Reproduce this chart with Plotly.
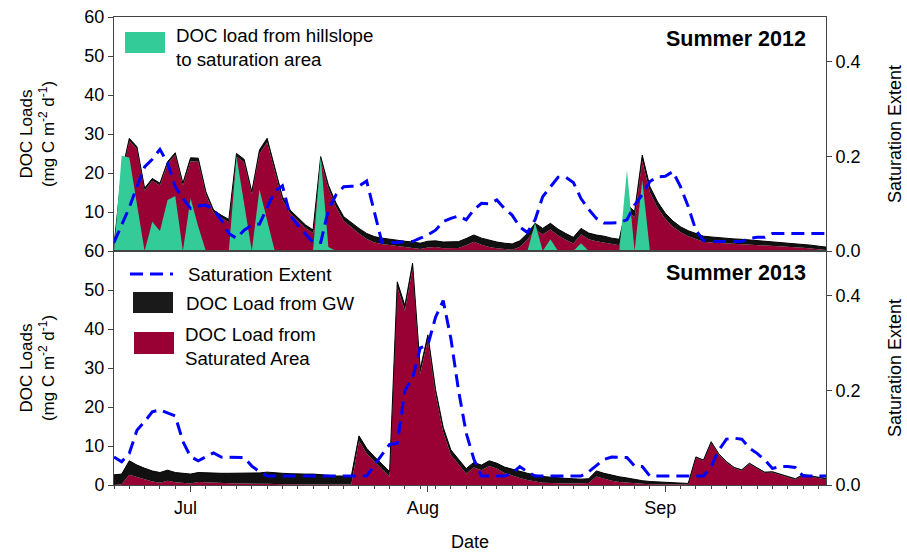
import pandas as pd
import plotly.graph_objects as go

# ---------------- data (daily, Jun 21 - Sep 22) ----------------
dates_2012 = pd.date_range("2012-06-21", periods=94, freq="D")
dates_2013 = pd.date_range("2013-06-21", periods=94, freq="D")

# 2012: DOC load from saturated area (mg C m-2 d-1)
sat_area_2012 = [1.0, 19.4, 28.3, 26.1, 15.5, 18.0, 16.8, 22.3, 24.6, 16.8,
                 23.0, 22.9, 14.5, 9.8, 8.5, 7.4, 24.2, 22.7, 14.5, 24.9,
                 27.9, 20.4, 13.1, 9.7, 7.7, 5.9, 4.6, 23.4, 16.0, 11.3,
                 7.7, 6.0, 4.5, 3.1, 2.2, 1.8, 1.5, 1.3, 1.0, 0.8,
                 0.5, 0.9, 1.0, 0.7, 0.8, 0.8, 1.5, 2.4, 1.6, 1.0,
                 0.7, 0.5, 0.3, 1.0, 2.9, 5.5, 4.2, 5.5, 4.0, 2.9,
                 1.9, 4.2, 3.0, 2.5, 2.2, 1.8, 1.5, 10.5, 8.6, 23.1,
                 15.0, 11.1, 8.2, 6.2, 4.8, 3.8, 3.0, 2.4, 2.2, 2.1,
                 1.9, 1.8, 1.7, 1.6, 1.5, 1.4, 1.3, 1.2, 1.1, 1.0,
                 0.85, 0.65, 0.45, 0.25]
# 2012: DOC load from groundwater
gw_2012 = [0.5, 0.6, 0.6, 0.6, 0.6, 0.6, 0.6, 0.6, 0.6, 0.6,
           0.9, 0.9, 0.7, 0.7, 0.7, 0.7, 0.8, 0.8, 0.7, 1.0,
           1.0, 0.9, 0.8, 0.8, 0.8, 0.8, 0.8, 0.8, 0.9, 1.0,
           1.1, 1.2, 1.3, 1.4, 1.5, 1.5, 1.5, 1.5, 1.5, 1.5,
           1.5, 1.6, 1.6, 1.6, 1.6, 1.6, 1.7, 1.7, 1.7, 1.7,
           1.6, 1.5, 1.5, 1.6, 1.6, 1.6, 1.6, 1.6, 1.6, 1.6,
           1.6, 1.6, 1.6, 1.6, 1.6, 1.5, 1.5, 1.5, 1.5, 1.5,
           1.5, 1.5, 1.5, 1.5, 1.4, 1.4, 1.4, 1.4, 1.4, 1.3,
           1.3, 1.3, 1.3, 1.25, 1.2, 1.15, 1.1, 1.05, 1.0, 0.95,
           0.9, 0.85, 0.8, 0.75]
# 2012: DOC load from hillslope to saturation area
hillslope_2012 = [0, 24.4, 24.0, 12.0, 0, 7.5, 5.1, 13.1, 14.1, 0,
                  13.5, 6.3, 0, 0, 0, 0, 24.2, 12.5, 0, 15.8,
                  7.9, 0, 0, 0, 0, 0, 0, 24.2, 1.0, 0,
                  0, 0, 0, 0, 0, 0, 0, 0, 0, 0,
                  0, 0, 0, 0, 0, 0, 0, 0, 0, 0,
                  0, 0, 0, 0, 0, 7.2, 0, 3.0, 0, 0,
                  0, 2.0, 0, 0, 0, 0, 0, 20.8, 0, 18.2,
                  0, 0, 0, 0, 0, 0, 0, 0, 0, 0,
                  0, 0, 0, 0, 0, 0, 0, 0, 0, 0,
                  0, 0, 0, 0]
# 2012: saturation extent (fraction)
sat_ext_2012 = [0.018, 0.055, 0.092, 0.136, 0.178, 0.194, 0.215, 0.186, 0.136, 0.111,
                0.090, 0.095, 0.097, 0.088, 0.066, 0.037, 0.027, 0.044, 0.055, 0.057,
                0.090, 0.126, 0.138, 0.076, 0.055, 0.037, 0.018, 0.018, 0.087, 0.119,
                0.136, 0.137, 0.137, 0.148, 0.080, 0.018, 0.018, 0.018, 0.020, 0.020,
                0.027, 0.034, 0.044, 0.062, 0.069, 0.074, 0.066, 0.087, 0.101, 0.100,
                0.108, 0.090, 0.076, 0.051, 0.039, 0.066, 0.115, 0.136, 0.156, 0.156,
                0.145, 0.111, 0.088, 0.069, 0.059, 0.059, 0.060, 0.066, 0.097, 0.119,
                0.147, 0.157, 0.158, 0.168, 0.136, 0.094, 0.044, 0.022, 0.020, 0.020,
                0.020, 0.020, 0.020, 0.027, 0.029, 0.029, 0.037, 0.037, 0.037, 0.037,
                0.037, 0.037, 0.037, 0.037]

# 2013
sat_area_2013 = [0.0, 0.2, 2.6, 2.0, 1.4, 0.9, 0.6, 1.1, 0.7, 0.5,
                 0.4, 0.8, 0.7, 0.6, 0.5, 0.4, 0.4, 0.4, 0.3, 0.3,
                 0.3, 0.2, 0.2, 0.2, 0.1, 0.1, 0.1, 0.1, 0.1, 0.1,
                 0.1, 0.1, 11.3, 8.1, 6.0, 4.1, 2.1, 50.8, 44.7, 55.6,
                 28.5, 37.2, 23.2, 13.5, 7.7, 5.3, 2.9, 4.5, 3.8, 4.9,
                 4.2, 3.1, 2.4, 1.8, 1.3, 0.9, 0.6, 0.5, 0.4, 0.4,
                 0.4, 0.4, 0.5, 2.2, 1.6, 1.1, 0.8, 0.6, 0.4, 0.3,
                 0.2, 0.2, 0.1, 0.1, 0.1, 0.1, 7.0, 6.2, 10.9, 7.8,
                 5.8, 4.3, 3.7, 5.4, 4.2, 3.1, 3.2, 2.6, 2.0, 1.4,
                 2.5, 2.1, 1.8, 1.5]
gw_2013 = [2.6, 2.6, 3.6, 3.1, 2.9, 2.7, 2.6, 2.7, 2.5, 2.5,
           2.4, 2.4, 2.4, 2.4, 2.5, 2.6, 2.6, 2.7, 2.8, 2.8,
           3.0, 2.9, 2.8, 2.7, 2.7, 2.7, 2.7, 2.6, 2.4, 2.2,
           2.2, 2.2, 1.3, 1.3, 1.3, 1.3, 1.3, 1.3, 1.3, 1.3,
           1.3, 1.3, 1.3, 1.3, 1.3, 1.3, 1.3, 1.3, 1.3, 1.3,
           1.4, 1.5, 1.6, 1.7, 1.7, 1.7, 1.6, 1.5, 1.4, 1.3,
           1.2, 1.1, 1.1, 1.4, 1.4, 1.4, 1.3, 1.2, 1.0, 0.8,
           0.7, 0.6, 0.5, 0.4, 0.4, 0.3, 0.2, 0.2, 0.2, 0.2,
           0.2, 0.2, 0.2, 0.2, 0.2, 0.2, 0.2, 0.2, 0.2, 0.2,
           0.2, 0.2, 0.2, 0.2]
sat_ext_2013 = [0.059, 0.049, 0.067, 0.116, 0.134, 0.155, 0.159, 0.153, 0.146, 0.092,
                0.060, 0.051, 0.059, 0.068, 0.059, 0.059, 0.059, 0.058, 0.040, 0.028,
                0.019, 0.019, 0.019, 0.019, 0.019, 0.019, 0.019, 0.019, 0.019, 0.019,
                0.019, 0.019, 0.019, 0.019, 0.042, 0.065, 0.086, 0.088, 0.200, 0.226,
                0.290, 0.296, 0.355, 0.390, 0.310, 0.200, 0.110, 0.055, 0.019, 0.019,
                0.019, 0.019, 0.025, 0.039, 0.028, 0.019, 0.019, 0.019, 0.019, 0.019,
                0.019, 0.019, 0.028, 0.042, 0.054, 0.059, 0.059, 0.058, 0.040, 0.039,
                0.019, 0.019, 0.019, 0.019, 0.019, 0.019, 0.019, 0.019, 0.039, 0.074,
                0.097, 0.099, 0.097, 0.078, 0.067, 0.053, 0.035, 0.039, 0.039, 0.037,
                0.019, 0.019, 0.019, 0.019]

left_ticks_top = [10, 20, 30, 40, 50, 60]
left_ticks_bottom = [0, 10, 20, 30, 40, 50, 60]
right_ticks = [0.0, 0.2, 0.4]
month_ticks = ["2013-07-01", "2013-08-01", "2013-09-01"]
month_labels = ["Jul", "Aug", "Sep"]

# ---------------- style ----------------
MAROON = "#990033"
GWCOL = "#111111"
GREEN = "#33CC99"
BLUE = "#0000FF"
AXC = "#444444"
FONT = "Liberation Sans, Arial, sans-serif"
DASH = "13px,7px"

fig = go.Figure()


def add_panel(dates, sat_area, gw, sat_ext, xa, ya, yr, group, hill=None):
    fig.add_trace(go.Scatter(x=dates, y=sat_area, mode="lines", stackgroup=group,
                             line=dict(width=0, color=MAROON), fillcolor=MAROON,
                             name="DOC Load from Saturated Area", showlegend=False,
                             xaxis=xa, yaxis=ya))
    fig.add_trace(go.Scatter(x=dates, y=gw, mode="lines", stackgroup=group,
                             line=dict(width=1, color="black"), fillcolor=GWCOL,
                             name="DOC Load from GW", showlegend=False,
                             xaxis=xa, yaxis=ya))
    if hill is not None:
        fig.add_trace(go.Scatter(x=dates, y=hill, mode="lines", fill="tozeroy",
                                 line=dict(width=0, color=GREEN), fillcolor=GREEN,
                                 name="DOC load from hillslope to saturation area",
                                 showlegend=False, xaxis=xa, yaxis=ya))
    fig.add_trace(go.Scatter(x=dates, y=sat_ext, mode="lines",
                             line=dict(width=3, color=BLUE, dash=DASH),
                             name="Saturation Extent", showlegend=False,
                             xaxis=xa, yaxis=yr))


add_panel(dates_2012, sat_area_2012, gw_2012, sat_ext_2012, "x", "y", "y3", "s12", hillslope_2012)
add_panel(dates_2013, sat_area_2013, gw_2013, sat_ext_2013, "x2", "y2", "y4", "s13")

tickfont = dict(family=FONT, size=18, color="black")
left_title = "DOC Loads<br>(mg C m<sup>-2</sup> d<sup>-1</sup>)"

common_y = dict(showgrid=False, zeroline=False, showline=True, linecolor=AXC, linewidth=1,
                ticks="outside", ticklen=5, tickcolor=AXC, tickfont=tickfont,
                automargin=False)

fig.update_layout(
    width=907, height=552,
    margin=dict(l=114, r=81, t=17, b=67, autoexpand=False),
    paper_bgcolor="white", plot_bgcolor="white",
    font=dict(family=FONT, size=18, color="black"),
    showlegend=False,
    xaxis=dict(domain=[0, 1], anchor="y", type="date",
               range=["2012-06-21", "2012-09-22"], automargin=False,
               showticklabels=False, ticks="", showgrid=False, zeroline=False,
               showline=True, mirror=True, linecolor=AXC, linewidth=1),
    xaxis2=dict(domain=[0, 1], anchor="y2", type="date",
                range=["2013-06-21", "2013-09-22"], automargin=False,
                tickmode="array", tickvals=month_ticks, ticktext=month_labels,
                ticks="outside", ticklen=6, tickcolor=AXC, tickfont=tickfont,
                ticklabelshift=-5,
                minor=dict(ticks="outside", ticklen=3, tickcolor=AXC,
                           dtick=2 * 86400000, tick0="2013-06-21"),
                showgrid=False, zeroline=False, showline=True, mirror=True,
                linecolor=AXC, linewidth=1,
                title=dict(text="Date", font=dict(family=FONT, size=18), standoff=20)),
    yaxis=dict(domain=[0.5, 1], anchor="x", range=[0, 60],
               tickmode="array", tickvals=left_ticks_top,
               title=dict(text=left_title, font=dict(family=FONT, size=17), standoff=25),
               **common_y),
    yaxis2=dict(domain=[0, 0.5], anchor="x2", range=[0, 60],
                tickmode="array", tickvals=left_ticks_bottom,
                title=dict(text=left_title, font=dict(family=FONT, size=17), standoff=25),
                **common_y),
    yaxis3=dict(overlaying="y", side="right", anchor="x", range=[0, 0.495],
                tickmode="array", tickvals=right_ticks, tickformat=".1f",
                title=dict(text="Saturation Extent", font=dict(family=FONT, size=18), standoff=28),
                **common_y),
    yaxis4=dict(overlaying="y2", side="right", anchor="x2", range=[0, 0.495],
                tickmode="array", tickvals=right_ticks, tickformat=".1f",
                title=dict(text="Saturation Extent", font=dict(family=FONT, size=18), standoff=28),
                **common_y),
)


def px(xp):
    return (xp - 114) / 712.0


def py(yp):
    return (485 - yp) / 468.0


# panel titles
fig.add_annotation(x=px(808), y=py(39), xref="paper", yref="paper", xanchor="right",
                   yanchor="middle", showarrow=False, text="<b>Summer 2012</b>",
                   font=dict(family=FONT, size=21.5, color="black"))
fig.add_annotation(x=px(808), y=py(273), xref="paper", yref="paper", xanchor="right",
                   yanchor="middle", showarrow=False, text="<b>Summer 2013</b>",
                   font=dict(family=FONT, size=21.5, color="black"))

# legend (top panel)
fig.add_shape(type="rect", xref="paper", yref="paper", x0=px(125), x1=px(165),
              y0=py(53), y1=py(32), fillcolor=GREEN, line=dict(width=0))
fig.add_annotation(x=px(174), y=py(47), xref="paper", yref="paper", xanchor="left",
                   yanchor="middle", align="left", showarrow=False,
                   text="DOC load from hillslope<br>to saturation area",
                   font=dict(family=FONT, size=18.7, color="black"))

# legend (bottom panel)
fig.add_shape(type="line", xref="paper", yref="paper", x0=px(130), x1=px(173),
              y0=py(274), y1=py(274), line=dict(color=BLUE, width=3, dash=DASH))
fig.add_annotation(x=px(186), y=py(274), xref="paper", yref="paper", xanchor="left",
                   yanchor="middle", showarrow=False, text="Saturation Extent",
                   font=dict(family=FONT, size=18.7, color="black"))
fig.add_shape(type="rect", xref="paper", yref="paper", x0=px(133), x1=px(173),
              y0=py(313), y1=py(292), fillcolor="#1a1a1a", line=dict(width=0))
fig.add_annotation(x=px(184), y=py(303), xref="paper", yref="paper", xanchor="left",
                   yanchor="middle", showarrow=False, text="DOC Load from GW",
                   font=dict(family=FONT, size=18.7, color="black"))
fig.add_shape(type="rect", xref="paper", yref="paper", x0=px(134), x1=px(174),
              y0=py(354), y1=py(332), fillcolor=MAROON, line=dict(width=0))
fig.add_annotation(x=px(183), y=py(347), xref="paper", yref="paper", xanchor="left",
                   yanchor="middle", align="left", showarrow=False,
                   text="DOC Load from<br>Saturated Area",
                   font=dict(family=FONT, size=18.7, color="black"))

fig.write_html("out.html", config={"displayModeBar": False},
               post_script="document.body.style.margin='0px';document.body.style.padding='0px';")
